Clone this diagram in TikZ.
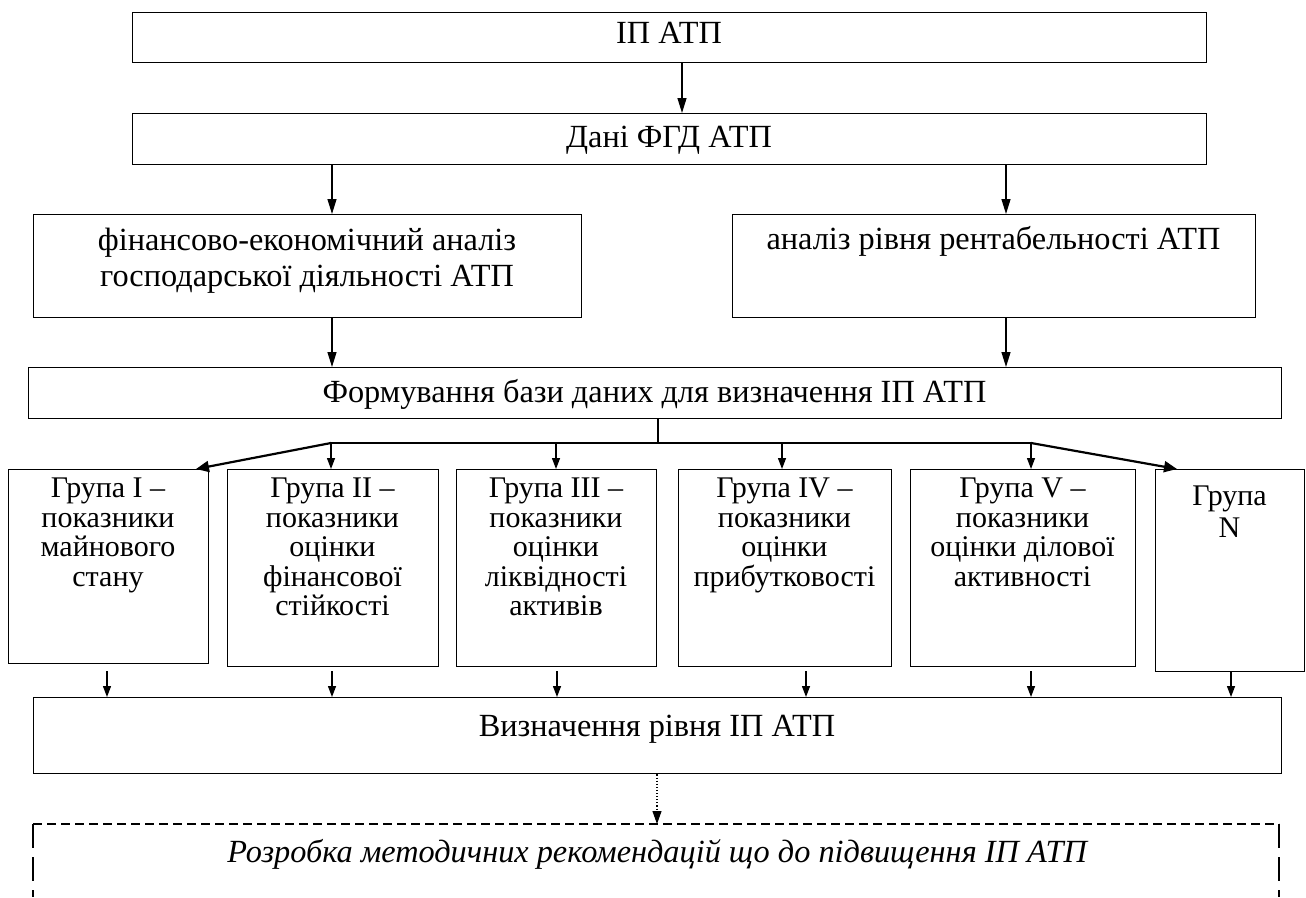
\documentclass[tikz,border=0pt]{standalone}
\usepackage{fontspec}
\setmainfont{Liberation Serif}
\usetikzlibrary{arrows.meta,calc}
\begin{document}
\begin{tikzpicture}[x=1pt,y=-1pt,
  box/.style={draw,line width=1.4pt,rectangle,inner sep=0pt,anchor=north west},
  big/.style={font=\fontsize{32.3}{36}\selectfont,align=center,inner sep=0pt},
  grp/.style={font=\fontsize{30}{29.5}\selectfont,align=center,inner sep=0pt,anchor=north},
  arr/.style={line width=1.3pt,-{Triangle[length=15pt,width=9pt]}},
  sarr/.style={line width=1.3pt,-{Triangle[length=11pt,width=8pt]}},
  farr/.style={line width=2.2pt,-{Triangle[length=13pt,width=11pt]}},
  dashbox/.style={line width=1.2pt,dash pattern=on 9pt off 5pt}
]
\useasboundingbox (0,0) rectangle (1306,897);
% boxes
\node[box,minimum width=1074pt,minimum height=50pt] (top) at (132,12) {};
\node[big] (toptxt) at (669,33) {ІП АТП};
\node[box,minimum width=1074pt,minimum height=51pt] (data) at (132,113) {};
\node[big] (datatxt) at (669,140) {Дані ФГД АТП};
\node[box,minimum width=548pt,minimum height=103pt] (left) at (33,214) {};
\node[big,anchor=north] (lefttxt) at (307,228) {фінансово-економічний аналіз\\господарської діяльності АТП};
\node[box,minimum width=523pt,minimum height=103pt] (right) at (732,214) {};
\node[big,anchor=north] (righttxt) at (993.5,226) {аналіз рівня рентабельності АТП};
\node[box,minimum width=1253pt,minimum height=51pt] (form) at (28,367) {};
\node[big] (formtxt) at (654.5,394) {Формування бази даних для визначення ІП АТП};
% groups
\node[box,minimum width=200pt,minimum height=194pt] (g1) at (8,469) {};
\node[grp] (g1t) at (108,478) {Група I –\\показники\\майнового\\стану};
\node[box,minimum width=211pt,minimum height=197pt] (g2) at (227,469) {};
\node[grp] (g2t) at (332.5,478) {Група II –\\показники\\оцінки\\фінансової\\стійкості};
\node[box,minimum width=200pt,minimum height=197pt] (g3) at (456,469) {};
\node[grp] (g3t) at (556,478) {Група III –\\показники\\оцінки\\ліквідності\\активів};
\node[box,minimum width=213pt,minimum height=197pt] (g4) at (678,469) {};
\node[grp] (g4t) at (784.5,478) {Група IV –\\показники\\оцінки\\прибутковості};
\node[box,minimum width=225pt,minimum height=197pt] (g5) at (910,469) {};
\node[grp] (g5t) at (1022.5,478) {Група V –\\показники\\оцінки ділової\\активності};
\node[box,minimum width=149pt,minimum height=202pt] (gN) at (1155,469) {};
\node[grp,font=\fontsize{30}{32}\selectfont] (gNt) at (1229.5,486) {Група\\N};
% determination
\node[box,minimum width=1248pt,minimum height=76pt] (det) at (33,697) {};
\node[big] (dettxt) at (657,729) {Визначення рівня ІП АТП};
% dashed box (open at the bottom)
\coordinate (dl) at (33,824);
\coordinate (dr) at (1279,824);
\coordinate (dlb) at (33,897);
\coordinate (drb) at (1279,897);
\draw[dashbox] (dl) -- (dr);
\draw[line width=1.2pt,dash pattern=on 24pt off 9pt] (dl) -- (dlb);
\draw[line width=1.2pt,dash pattern=on 24pt off 9pt] (dr) -- (drb);
\node[big,font=\fontsize{32.3}{36}\selectfont\itshape] (rec) at (657,854) {Розробка методичних рекомендацій що до підвищення ІП АТП};
% connectors
\coordinate (c1) at (682,0);
\coordinate (c2) at (332,0);
\coordinate (c3) at (1006,0);
\draw[arr] (c1 |- top.south) -- (c1 |- data.north);
\draw[arr] (c2 |- data.south) -- (c2 |- left.north);
\draw[arr] (c3 |- data.south) -- (c3 |- right.north);
\draw[arr] (c2 |- left.south) -- (c2 |- form.north);
\draw[arr] (c3 |- right.south) -- (c3 |- form.north);
% bus
\coordinate (bm) at (658,443);
\coordinate (bl) at (331,443);
\coordinate (br) at (1031,443);
\draw[line width=1.3pt] (658,0 |- form.south) -- (bm);
\draw[line width=1.3pt] (bl) -- (br);
\coordinate (b3) at (556,443);
\coordinate (b4) at (782,443);
\draw[sarr] (bl) -- (bl |- g2.north);
\draw[sarr] (b3) -- (b3 |- g3.north);
\draw[sarr] (b4) -- (b4 |- g4.north);
\draw[sarr] (br) -- (br |- g5.north);
\coordinate (f1) at (196,469);
\coordinate (fN) at (1177,469);
\draw[farr] (bl) -- (f1);
\draw[farr] (br) -- (fN);
% groups to determination
\foreach \x/\n in {107/1,332/2,557/3,806/4,1031/5}{
  \coordinate (d\n) at (\x,671);
  \draw[sarr] (d\n) -- (d\n |- det.north);
}
\coordinate (dN) at (1231,0);
\draw[sarr] (dN |- gN.south) -- (dN |- det.north);
% dotted
\coordinate (e) at (657,0);
\draw[line width=1.1pt,dotted,-{Triangle[length=13pt,width=9pt]}] (e |- det.south) -- (e |- dl);
\end{tikzpicture}
\end{document}
